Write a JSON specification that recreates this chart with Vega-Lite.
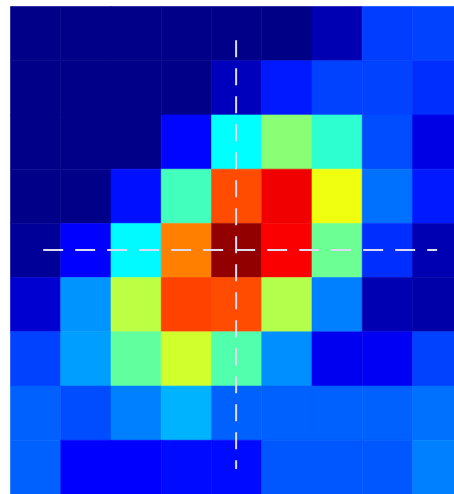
{
  "$schema": "https://vega.github.io/schema/vega-lite/v6.json",
  "width": 444,
  "height": 488,
  "autosize": {"type": "none"},
  "padding": {"left": 10, "top": 6, "right": 0, "bottom": 0},
  "background": "white",
  "config": {"view": {"stroke": null}},
  "layer": [
    {
      "data": {"values": [
        {"r":0,"c":0,"v":0.01},{"r":0,"c":1,"v":0.01},{"r":0,"c":2,"v":0.01},{"r":0,"c":3,"v":0.01},{"r":0,"c":4,"v":0.01},{"r":0,"c":5,"v":0.008},{"r":0,"c":6,"v":0.05},{"r":0,"c":7,"v":0.185},{"r":0,"c":8,"v":0.19},
        {"r":1,"c":0,"v":0.01},{"r":1,"c":1,"v":0.01},{"r":1,"c":2,"v":0.01},{"r":1,"c":3,"v":0.01},{"r":1,"c":4,"v":0.06},{"r":1,"c":5,"v":0.15},{"r":1,"c":6,"v":0.19},{"r":1,"c":7,"v":0.19},{"r":1,"c":8,"v":0.17},
        {"r":2,"c":0,"v":0.01},{"r":2,"c":1,"v":0.01},{"r":2,"c":2,"v":0.01},{"r":2,"c":3,"v":0.13},{"r":2,"c":4,"v":0.375},{"r":2,"c":5,"v":0.51},{"r":2,"c":6,"v":0.42},{"r":2,"c":7,"v":0.2},{"r":2,"c":8,"v":0.1},
        {"r":3,"c":0,"v":0.01},{"r":3,"c":1,"v":0.01},{"r":3,"c":2,"v":0.14},{"r":3,"c":3,"v":0.44},{"r":3,"c":4,"v":0.8},{"r":3,"c":5,"v":0.89},{"r":3,"c":6,"v":0.61},{"r":3,"c":7,"v":0.235},{"r":3,"c":8,"v":0.15},
        {"r":4,"c":0,"v":0.025},{"r":4,"c":1,"v":0.125},{"r":4,"c":2,"v":0.37},{"r":4,"c":3,"v":0.75},{"r":4,"c":4,"v":0.98},{"r":4,"c":5,"v":0.88},{"r":4,"c":6,"v":0.48},{"r":4,"c":7,"v":0.17},{"r":4,"c":8,"v":0.05},
        {"r":5,"c":0,"v":0.08},{"r":5,"c":1,"v":0.27},{"r":5,"c":2,"v":0.56},{"r":5,"c":3,"v":0.81},{"r":5,"c":4,"v":0.8},{"r":5,"c":5,"v":0.55},{"r":5,"c":6,"v":0.25},{"r":5,"c":7,"v":0.05},{"r":5,"c":8,"v":0.04},
        {"r":6,"c":0,"v":0.19},{"r":6,"c":1,"v":0.28},{"r":6,"c":2,"v":0.47},{"r":6,"c":3,"v":0.58},{"r":6,"c":4,"v":0.455},{"r":6,"c":5,"v":0.265},{"r":6,"c":6,"v":0.11},{"r":6,"c":7,"v":0.115},{"r":6,"c":8,"v":0.19},
        {"r":7,"c":0,"v":0.22},{"r":7,"c":1,"v":0.2},{"r":7,"c":2,"v":0.25},{"r":7,"c":3,"v":0.3},{"r":7,"c":4,"v":0.22},{"r":7,"c":5,"v":0.22},{"r":7,"c":6,"v":0.22},{"r":7,"c":7,"v":0.22},{"r":7,"c":8,"v":0.235},
        {"r":8,"c":0,"v":0.22},{"r":8,"c":1,"v":0.125},{"r":8,"c":2,"v":0.125},{"r":8,"c":3,"v":0.135},{"r":8,"c":4,"v":0.135},{"r":8,"c":5,"v":0.21},{"r":8,"c":6,"v":0.21},{"r":8,"c":7,"v":0.21},{"r":8,"c":8,"v":0.25}
      ]},
      "mark": {"type": "rect", "strokeWidth": 0.6},
      "encoding": {
        "x": {"field": "c", "type": "quantitative", "bin": {"binned": true, "step": 1}, "scale": {"domain": [0, 8.836], "nice": false, "zero": false}, "axis": null},
        "y": {"field": "r", "type": "quantitative", "bin": {"binned": true, "step": 1}, "scale": {"domain": [0, 9], "nice": false, "zero": false, "reverse": true}, "axis": null},
        "color": {"field": "v", "type": "quantitative", "scale": {"domain": [0, 0.125, 0.375, 0.625, 0.875, 1], "range": ["#00007f", "#0000ff", "#00ffff", "#ffff00", "#ff0000", "#7f0000"], "interpolate": "rgb"}, "legend": null},
        "stroke": {"field": "v", "type": "quantitative", "scale": {"domain": [0, 0.125, 0.375, 0.625, 0.875, 1], "range": ["#00007f", "#0000ff", "#00ffff", "#ffff00", "#ff0000", "#7f0000"], "interpolate": "rgb"}, "legend": null}
      }
    },
    {
      "data": {"values": [{"x": 4.5, "y": 0.63, "y2": 8.54}]},
      "mark": {"type": "rule", "color": "#dcdcf0", "strokeWidth": 2, "strokeDash": [17, 11]},
      "encoding": {
        "x": {"field": "x", "type": "quantitative"},
        "y": {"field": "y", "type": "quantitative"},
        "y2": {"field": "y2"}
      }
    },
    {
      "data": {"values": [{"y": 4.5, "x": 0.66, "x2": 8.5}]},
      "mark": {"type": "rule", "color": "#dcdcf0", "strokeWidth": 2, "strokeDash": [20, 12]},
      "encoding": {
        "y": {"field": "y", "type": "quantitative"},
        "x": {"field": "x", "type": "quantitative"},
        "x2": {"field": "x2"}
      }
    }
  ]
}
